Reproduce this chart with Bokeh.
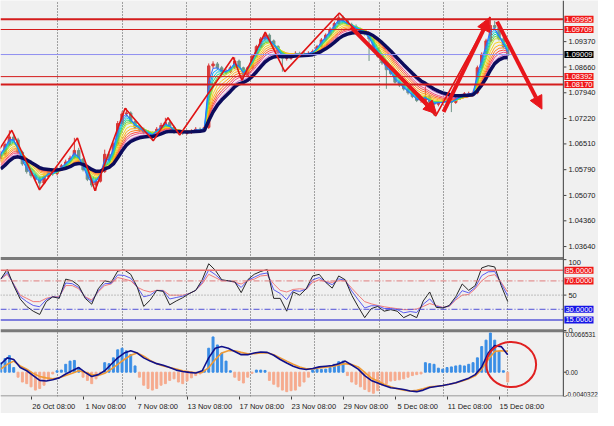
from bokeh.plotting import figure
from bokeh.models import (Range1d, FixedTicker, Span, Label, Arrow, NormalHead, ColumnDataSource)
from bokeh.core.properties import value
from bokeh.embed import file_html
from bokeh.resources import INLINE

# ---------------- data ----------------
# H4 bars, x = bar index (26 Oct 08:00 = 24, one label every 24 bars)
time_ticks = [24, 48, 72, 96, 120, 144, 168, 192, 216, 240]
time_labels = ["26 Oct 08:00", "1 Nov 08:00", "7 Nov 08:00", "13 Nov 08:00", "17 Nov 08:00",
               "23 Nov 08:00", "29 Nov 08:00", "5 Dec 08:00", "11 Dec 08:00", "15 Dec 08:00"]
week_grid = [36.4, 66.1, 95.7, 125.4, 155.0, 184.7, 214.4, 244.0]
price_ticks = [1.09370, 1.08660, 1.07940, 1.07220, 1.06510, 1.05790, 1.05070, 1.04360, 1.03640]

first_open = 1.0610
closes = [1.06220, 1.06489, 1.06704, 1.06623, 1.06274, 1.05951, 1.05736, 1.05629, 1.05521, 1.05414,
          1.05602, 1.05736, 1.05683, 1.05790, 1.05898, 1.06005, 1.06113, 1.06328, 1.06086, 1.05790,
          1.05521, 1.05360, 1.05468, 1.05736, 1.06220, 1.06059, 1.06489, 1.07080, 1.07349, 1.07376,
          1.07134, 1.06973, 1.06919, 1.06838, 1.06784, 1.06731, 1.06919, 1.07026, 1.07107, 1.06973,
          1.06838, 1.06838, 1.06811, 1.06838, 1.06865, 1.06919, 1.06892, 1.06973, 1.08692, 1.08746,
          1.08639, 1.08531, 1.08531, 1.08639, 1.08827, 1.08639, 1.08424, 1.08639, 1.08961, 1.09230,
          1.09445, 1.09552, 1.09391, 1.09230, 1.09069, 1.08907, 1.08907, 1.08988, 1.09042, 1.09015,
          1.09015, 1.09042, 1.09096, 1.09230, 1.09418, 1.09552, 1.09714, 1.09875, 1.10036, 1.09956,
          1.09848, 1.09794, 1.09714, 1.09660, 1.09579, 1.09445, 1.09176, 1.08961, 1.08773, 1.08585,
          1.08477, 1.08236, 1.08155, 1.08047, 1.07940, 1.07833, 1.07725, 1.07725, 1.07833, 1.07671,
          1.07618, 1.07671, 1.07671, 1.07725, 1.07671, 1.07779, 1.07859, 1.07913, 1.07913, 1.07940,
          1.08639, 1.09015, 1.09391, 1.09821, 1.09767, 1.09445, 1.09230, 1.08988]
highs = [1.0632, 1.0655, 1.0689, 1.0680, 1.0668, 1.0632, 1.0600, 1.0580, 1.0568, 1.0560,
         1.0566, 1.0580, 1.0580, 1.0585, 1.0595, 1.0607, 1.0618, 1.0668, 1.0640, 1.0612,
         1.0583, 1.0556, 1.0553, 1.0580, 1.0635, 1.0630, 1.0655, 1.0715, 1.0742, 1.0751,
         1.0742, 1.0718, 1.0703, 1.0697, 1.0690, 1.0686, 1.0698, 1.0710, 1.0724, 1.0716,
         1.0702, 1.0690, 1.0689, 1.0690, 1.0692, 1.0698, 1.0697, 1.0703, 1.0876, 1.0882,
         1.0880, 1.0869, 1.0860, 1.0870, 1.0893, 1.0887, 1.0867, 1.0868, 1.0900, 1.0928,
         1.0950, 1.0963, 1.0960, 1.0943, 1.0927, 1.0910, 1.0897, 1.0904, 1.0910, 1.0909,
         1.0908, 1.0910, 1.0915, 1.0928, 1.0947, 1.0960, 1.0977, 1.0993, 1.1017, 1.1010,
         1.1000, 1.0990, 1.0985, 1.0976, 1.0970, 1.0962, 1.0948, 1.0920, 1.0900, 1.0880,
         1.0862, 1.0850, 1.0828, 1.0818, 1.0808, 1.0798, 1.0787, 1.0778, 1.0812, 1.0788,
         1.0770, 1.0772, 1.0775, 1.0778, 1.0778, 1.0783, 1.0790, 1.0796, 1.0797, 1.0800,
         1.0870, 1.0907, 1.0945, 1.1006, 1.0995, 1.0982, 1.0950, 1.0927]
lows = [1.0602, 1.0617, 1.0645, 1.0655, 1.0622, 1.0590, 1.0568, 1.0557, 1.0545, 1.0523,
        1.0538, 1.0555, 1.0562, 1.0563, 1.0575, 1.0585, 1.0596, 1.0608, 1.0603, 1.0574,
        1.0547, 1.0530, 1.0520, 1.0543, 1.0570, 1.0600, 1.0602, 1.0645, 1.0703, 1.0728,
        1.0708, 1.0692, 1.0685, 1.0678, 1.0672, 1.0660, 1.0668, 1.0688, 1.0698, 1.0692,
        1.0679, 1.0678, 1.0676, 1.0677, 1.0679, 1.0682, 1.0684, 1.0685, 1.0693, 1.0862,
        1.0858, 1.0847, 1.0845, 1.0849, 1.0860, 1.0859, 1.0829, 1.0838, 1.0860, 1.0893,
        1.0920, 1.0940, 1.0935, 1.0918, 1.0902, 1.0853, 1.0884, 1.0886, 1.0895, 1.0897,
        1.0896, 1.0897, 1.0900, 1.0906, 1.0920, 1.0938, 1.0952, 1.0968, 1.0985, 1.0992,
        1.0981, 1.0976, 1.0968, 1.0962, 1.0954, 1.0883, 1.0912, 1.0892, 1.0872, 1.0805,
        1.0843, 1.0820, 1.0810, 1.0800, 1.0789, 1.0779, 1.0768, 1.0766, 1.0769, 1.0762,
        1.0730, 1.0756, 1.0760, 1.0762, 1.0740, 1.0763, 1.0774, 1.0782, 1.0786, 1.0787,
        1.0790, 1.0860, 1.0898, 1.0935, 1.0970, 1.0940, 1.0918, 1.0895]
bar_x = list(range(10, 10 + 2 * len(closes), 2))

# moving-average ribbon (EMA periods in H4 bars), fast -> slow, navy = slowest
ribbon_periods = [3, 4, 5, 6, 7, 8, 10, 12, 14, 16, 18, 21]
ribbon_start = [1.06274, 1.06220, 1.06166, 1.06113, 1.06059, 1.06005, 1.05951, 1.05924,
                1.05898, 1.05844, 1.05817, 1.05790]
navy_period = 24
navy_start = 1.05736

# zigzag turning points
zz_x = [5, 15.1, 27.9, 45.4, 53.5, 67.4, 80.4, 87.2, 92.6, 117.3, 121.3, 132.1, 141.1, 166.3, 210.8, 235.9]
zz_y = [1.05951, 1.06892, 1.05226, 1.06677, 1.05199, 1.07510, 1.06596, 1.07241, 1.06758, 1.08934,
        1.08289, 1.09633, 1.08531, 1.10171, 1.07295, 1.10063]

# drawn objects
red_levels = [1.09995, 1.09709, 1.08392, 1.08170]
red_widths = [2, 1, 1, 2]
bid_price = 1.09009
arrows = [(171.7, 1.09767, 211.2, 1.07349), (214.4, 1.07403, 235.5, 1.10036),
          (239.1, 1.09929, 259.8, 1.07483)]
circle_mark = (245.6, 0.00128, 23.0, 0.0075)

# RSI (three periods), one value every 3 bars
rsi_x = list(range(10, 10 + 3 * 79, 3))
rsi_fast = [72.5, 86.1, 63.4, 44.4, 34.0, 27.3, 22.7, 40.8, 47.6, 45.4,
            72.5, 70.2, 63.4, 45.4, 37.2, 58.9, 70.2, 68.0, 83.8, 85.6,
            79.3, 61.2, 34.0, 43.1, 56.7, 55.3, 36.3, 41.7, 46.3, 52.1,
            56.7, 71.6, 94.2, 85.2, 71.6, 70.2, 68.9, 53.5, 71.6, 79.3,
            83.3, 86.1, 45.4, 45.4, 27.3, 54.4, 49.9, 58.9, 77.0, 79.3,
            68.0, 59.8, 77.0, 71.6, 49.9, 33.6, 18.2, 30.9, 34.0, 27.3,
            29.5, 27.3, 18.2, 22.7, 18.2, 41.7, 54.4, 32.7, 31.8, 35.4,
            47.6, 65.7, 56.7, 63.4, 88.3, 91.5, 89.7, 63.4, 40.8]
rsi_mid = [72.5, 82.0, 64.8, 47.7, 40.8, 35.4, 33.6, 43.6, 47.6, 46.7,
           67.0, 66.1, 60.7, 46.7, 40.7, 56.2, 66.1, 66.6, 78.4, 77.7,
           73.8, 61.2, 47.6, 49.9, 56.7, 56.1, 44.5, 46.6, 48.5, 52.1,
           56.7, 68.1, 85.3, 79.0, 70.8, 70.2, 68.4, 60.8, 70.8, 75.2,
           79.5, 81.2, 57.6, 52.2, 43.6, 56.6, 55.3, 58.4, 71.6, 74.7,
           68.5, 64.7, 72.9, 70.8, 55.8, 43.4, 31.8, 35.0, 34.8, 31.1,
           31.1, 29.5, 25.0, 26.8, 25.5, 37.1, 44.6, 34.3, 32.3, 34.6,
           44.9, 56.2, 53.2, 60.7, 77.4, 82.8, 83.2, 66.2, 49.0]
rsi_slow = [72.5, 79.3, 65.7, 49.9, 45.4, 40.8, 40.8, 45.4, 47.6, 47.6,
            63.4, 63.4, 58.9, 47.6, 43.1, 54.4, 63.4, 65.7, 74.8, 72.5,
            70.2, 61.2, 56.7, 54.4, 56.7, 56.7, 49.9, 49.9, 49.9, 52.1,
            56.7, 65.7, 79.3, 74.8, 70.2, 70.2, 68.0, 65.7, 70.2, 72.5,
            77.0, 77.9, 65.7, 56.7, 54.4, 58.0, 58.9, 58.0, 68.0, 71.6,
            68.9, 68.0, 70.2, 70.2, 59.8, 49.9, 40.8, 37.7, 35.4, 33.6,
            32.2, 30.9, 29.5, 29.5, 30.4, 34.0, 38.1, 35.4, 32.7, 34.0,
            43.1, 49.9, 50.8, 58.9, 70.2, 77.0, 78.8, 68.0, 54.4]
rsi_levels = [85, 70, 50, 30, 15]
rsi_axis = [100, 50, 0]

# MACD
macd_main = [0.00131, 0.00238, 0.00211, 0.00077, 0.00024, -0.00056, -0.00136, -0.00147, -0.00126, -0.00094,
             -0.00029, 0.00024, 0.00077, -0.00003, -0.00072, -0.00040, 0.00024, 0.00131, 0.00238, 0.00318,
             0.00355, 0.00318, 0.00238, 0.00184, 0.00142, 0.00115, 0.00077, 0.00035, 0.00013, -0.00003,
             -0.00013, 0.00024, 0.00238, 0.00398, 0.00425, 0.00398, 0.00345, 0.00291, 0.00291, 0.00318,
             0.00334, 0.00329, 0.00281, 0.00211, 0.00152, 0.00099, 0.00061, 0.00045, 0.00061, 0.00088,
             0.00099, 0.00110, 0.00142, 0.00184, 0.00120, 0.00051, -0.00056, -0.00136, -0.00179, -0.00222,
             -0.00259, -0.00270, -0.00286, -0.00313, -0.00323, -0.00297, -0.00254, -0.00238, -0.00222, -0.00200,
             -0.00174, -0.00136, -0.00099, -0.00040, 0.00088, 0.00318, 0.00441, 0.00425, 0.00291]
macd_signal = [0.00051, 0.00131, 0.00184, 0.00104, 0.00051, -0.00019, -0.00072, -0.00094, -0.00110, -0.00094,
               -0.00056, -0.00019, 0.00024, -0.00003, -0.00040, -0.00056, -0.00019, 0.00051, 0.00131, 0.00211,
               0.00281, 0.00318, 0.00265, 0.00195, 0.00142, 0.00104, 0.00077, 0.00051, 0.00024, 0.00008,
               -0.00008, -0.00003, 0.00077, 0.00211, 0.00318, 0.00355, 0.00355, 0.00329, 0.00307, 0.00307,
               0.00318, 0.00323, 0.00291, 0.00238, 0.00184, 0.00131, 0.00088, 0.00056, 0.00056, 0.00072,
               0.00083, 0.00094, 0.00120, 0.00142, 0.00126, 0.00088, -0.00003, -0.00094, -0.00147, -0.00200,
               -0.00243, -0.00275, -0.00297, -0.00313, -0.00302, -0.00275, -0.00243, -0.00232, -0.00222, -0.00200,
               -0.00179, -0.00147, -0.00110, -0.00061, 0.00051, 0.00211, 0.00345, 0.00355, 0.00345]
macd_hist = [0.00158, 0.00227, 0.00275, 0.00077, -0.00083, -0.00163, -0.00190, -0.00243, -0.00297, -0.00270,
             -0.00216, -0.00136, -0.00029, 0.00024, 0.00035, 0.00131, 0.00184, 0.00195, 0.00077, -0.00083,
             -0.00136, -0.00190, -0.00110, -0.00005, 0.00158, 0.00142, 0.00238, 0.00371, 0.00398, 0.00355,
             0.00291, 0.00104, -0.00083, -0.00216, -0.00270, -0.00297, -0.00270, -0.00216, -0.00190, -0.00136,
             -0.00110, -0.00163, -0.00190, -0.00147, -0.00094, -0.00056, -0.00029, 0.00035, 0.00398, 0.00585,
             0.00452, 0.00318, 0.00184, 0.00024, -0.00083, -0.00136, -0.00179, -0.00083, -0.00019, 0.00035,
             0.00035, 0.00029, -0.00136, -0.00200, -0.00243, -0.00297, -0.00323, -0.00307, -0.00297, -0.00232,
             -0.00163, -0.00083, 0.00040, 0.00051, 0.00045, 0.00051, 0.00077, 0.00131, 0.00174, 0.00184,
             -0.00056, -0.00163, -0.00200, -0.00243, -0.00286, -0.00323, -0.00350, -0.00307, -0.00216, -0.00190,
             -0.00147, -0.00136, -0.00126, -0.00110, -0.00083, -0.00056, -0.00040, -0.00029, 0.00158, 0.00142,
             0.00131, 0.00067, 0.00051, 0.00077, 0.00088, 0.00104, 0.00115, 0.00104, 0.00131, 0.00158,
             0.00238, 0.00425, 0.00532, 0.00650, 0.00532, 0.00345, 0.00024, -0.00163]
macd_top, macd_bottom = 0.0066531, -0.0040322

# ---------------- layout ----------------
# One frame holds the three stacked panels plus the price-scale strip on the right.
BG = "#f0f0f0"
RED = "#e8161b"
FONT_NAME = "Liberation Sans"
FONT = value(FONT_NAME)
FS = "7.5px"

X0, XD = 9.9, 269.7                      # visible bars; XD = right edge of chart area
X_RANGE = Range1d(X0, 285.9)             # beyond XD: price-scale strip
MAIN_RANGE = Range1d(0.99448, 1.10520)
RSI_RANGE = Range1d(-92.95, 465.3)
MACD_RANGE = Range1d(macd_bottom, 0.06168)
PX = (X_RANGE.end - X_RANGE.start) / 598.0     # bars per screen pixel

p = figure(frame_width=598, frame_height=396, x_range=X_RANGE, y_range=MAIN_RANGE,
           y_axis_location=None, output_backend="svg", toolbar_location=None,
           min_border_left=0, min_border_top=0, min_border_right=0, min_border_bottom=13,
           background_fill_color=BG, border_fill_color=BG, outline_line_color=None)
p.extra_y_ranges = {"rsi": RSI_RANGE, "macd": MACD_RANGE}

p.ygrid.visible = False
p.xgrid.ticker = FixedTicker(ticks=week_grid)
p.xgrid.grid_line_color = "#505050"
p.xgrid.grid_line_dash = "1 2"
p.xgrid.grid_line_width = 1

# time axis: label text starts just right of its tick (as in the terminal)
LABEL_SHIFT = 10.5
xa = p.xaxis[0]
xa.ticker = FixedTicker(ticks=[t + LABEL_SHIFT for t in time_ticks], minor_ticks=time_ticks)
xa.major_label_overrides = {t + LABEL_SHIFT: s for t, s in zip(time_ticks, time_labels)}
xa.axis_line_color = None
xa.major_tick_out = 0
xa.major_tick_in = 0
xa.minor_tick_out = 3
xa.minor_tick_in = 0
xa.minor_tick_line_color = "#404040"
xa.major_label_text_font = FONT_NAME
xa.major_label_text_font_size = FS
xa.major_label_text_color = "#202020"
xa.major_label_standoff = 2

def main_at(frac_from_top):
    return MAIN_RANGE.end - frac_from_top * (MAIN_RANGE.end - MAIN_RANGE.start)

# chart-area border and panel separators
p.add_layout(Span(location=XD, dimension="height", line_color="#5a5a5a", line_width=1.2))
sep_y = [main_at(268.3 / 412.0), main_at(343.7 / 412.0), main_at(411.5 / 412.0)]
p.segment(x0=[X0] * 3, x1=[XD] * 3, y0=sep_y, y1=sep_y, line_color="#7a7a7a", line_width=[3, 3, 1.2])

# ---- candles ----
opens = [first_open] + closes[:-1]
up = [c >= o for o, c in zip(opens, closes)]
cols = ["#d83a3a" if u else "#6f9488" for u in up]
src = ColumnDataSource(dict(x=bar_x, h=highs, l=lows, top=[max(o, c) for o, c in zip(opens, closes)],
                            bot=[min(o, c) for o, c in zip(opens, closes)], col=cols))
p.segment(x0="x", y0="l", x1="x", y1="h", line_color="col", line_width=1, source=src)
p.vbar(x="x", width=1.1, top="top", bottom="bot", fill_color="col", line_color="col", source=src)

# ---- MA ribbon ----
def ema(vals, period, seed):
    a1 = 2.0 / (period + 1)
    a = 1 - (1 - a1) ** 2          # one sample = two H4 bars
    out, e = [], seed
    for v in vals:
        e += a * (v - e)
        out.append(e)
    return out

ribbon_colors = ["#2f6bff", "#0aa5ff", "#12d0d6", "#2fd68a", "#7ad63a", "#c8e22a",
                 "#f5d21c", "#ffab1e", "#ff7d22", "#ff4c3c", "#ef4f86", "#c86ad0"]
for per, seed, col in zip(ribbon_periods[::-1], ribbon_start[::-1], ribbon_colors[::-1]):
    p.line(bar_x, ema(closes, per, seed), line_color=col, line_width=1)
p.line(bar_x, ema(closes, navy_period, navy_start), line_color="#0c0c5c", line_width=3.5)

# ---- zigzag ----
p.line(zz_x, zz_y, line_color="#e01414", line_width=1.6)

# ---- horizontal levels (stop at the chart-area edge) ----
n = len(red_levels)
p.segment(x0=[X0] * n, x1=[XD] * n, y0=red_levels, y1=red_levels, line_color="#d41c1c", line_width=red_widths)
p.segment(x0=[X0], x1=[XD], y0=[bid_price], y1=[bid_price], line_color="#8f8ff0", line_width=1)

# ---- arrows ----
for x0, y0, x1, y1 in arrows:
    p.add_layout(Arrow(x_start=x0, y_start=y0, x_end=x1, y_end=y1, line_color=RED, line_width=4,
                       end=NormalHead(size=13, fill_color=RED, line_color=RED)))

# ---- RSI ----
p.line(rsi_x, rsi_slow, y_range_name="rsi", line_color="#f07a7a", line_width=1)
p.line(rsi_x, rsi_mid, y_range_name="rsi", line_color="#5b5bf0", line_width=1)
p.line(rsi_x, rsi_fast, y_range_name="rsi", line_color="#262626", line_width=1)
lvl_style = {85: ("#e86a6a", "solid", 1.5), 70: ("#e07b7b", "6 2 1 2", 1),
             50: ("#8a8a8a", "1 2", 1), 30: ("#5050d8", "6 2 1 2", 1), 15: ("#5a5ad8", "solid", 1.5)}
for lvl in rsi_levels:
    c, d, w = lvl_style[lvl]
    p.segment(x0=[X0], x1=[XD], y0=[lvl], y1=[lvl], y_range_name="rsi", line_color=c,
              line_dash=d, line_width=w)

# ---- MACD ----
hcols = ["#3a8ee6" if v >= 0 else "#f6ab8e" for v in macd_hist]
p.vbar(x=bar_x, top=macd_hist, bottom=0, width=0.9, fill_color=hcols, line_color=hcols,
       y_range_name="macd")
p.line(rsi_x, macd_signal, y_range_name="macd", line_color="#f09a35", line_width=1.6)
p.line(rsi_x, macd_main, y_range_name="macd", line_color="#10108a", line_width=1.6)
cx, cy, cw, ch = circle_mark
p.ellipse(x=[cx], y=[cy], width=cw, height=ch, y_range_name="macd", fill_alpha=0,
          line_color="#e02020", line_width=2)

# ---- price-scale strip (tick marks + texts) ----
def scale_texts(ys, texts, rng, baselines, size=FS, off=5):
    p.segment(x0=[XD] * len(ys), x1=[XD + 3 * PX] * len(ys), y0=ys, y1=ys, y_range_name=rng,
              line_color="#404040", line_width=1)
    p.text(x=[XD] * len(ys), y=ys, text=texts, y_range_name=rng, x_offset=off,
           text_baseline=baselines, text_align="left", text_font=FONT,
           text_font_size=size, text_color="#202020")

scale_texts(price_ticks, [f"{v:.5f}" for v in price_ticks], "default", "middle")
scale_texts(rsi_axis, [str(v) for v in rsi_axis], "rsi", ["top", "middle", "alphabetic"])
scale_texts([macd_top, 0, macd_bottom], [f"{macd_top:.7f}", "0.00", f"{macd_bottom:.7f}"], "macd",
            ["top", "middle", "bottom"], size="6.4px", off=2)

def box(y, text, fill, rng="default"):
    p.add_layout(Label(x=XD, y=y, y_range_name=rng, x_offset=1, text=text,
                       text_font=FONT_NAME, text_font_size=FS, text_color="white",
                       text_baseline="middle", text_align="left",
                       background_fill_color=fill, padding=1))

for lvl in red_levels:
    box(lvl, f"{lvl:.5f}", "#f01818")
box(bid_price, f"{bid_price:.5f}", "#000000")
for lvl in (85, 70):
    box(lvl, f"{lvl:.4f}", "#f01818", "rsi")
for lvl in (30, 15):
    box(lvl, f"{lvl:.4f}", "#1414e6", "rsi")

open("out.html", "w").write(file_html(p, INLINE))
